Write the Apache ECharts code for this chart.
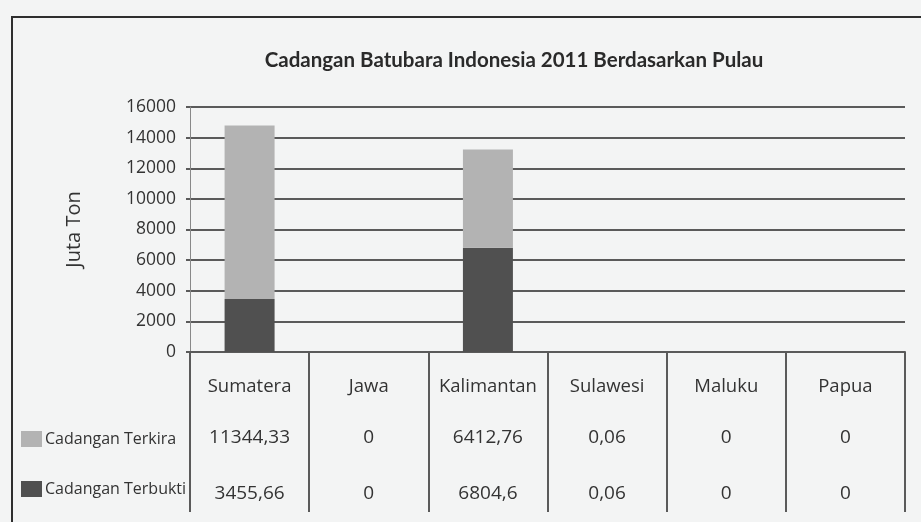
<!DOCTYPE html>
<html>
<head>
<meta charset="utf-8">
<script src="https://cdn.jsdelivr.net/npm/echarts@6/dist/echarts.min.js"></script>
<style>
  html, body { margin: 0; padding: 0; background: #f3f4f4; }
  #chart { width: 921px; height: 522px; }
</style>
</head>
<body>
<div id="chart"></div>
<script>
const pulau = ['Sumatera', 'Jawa', 'Kalimantan', 'Sulawesi', 'Maluku', 'Papua']
const terkira = [11344.33, 0, 6412.76, 0.06, 0, 0]
const terbukti = [3455.66, 0, 6804.6, 0.06, 0, 0]
const yTicks = [0, 2000, 4000, 6000, 8000, 10000, 12000, 14000, 16000]

const font = '"Open Sans", Lato, sans-serif'
const ink = '#333'
const line = '#5a5a5a'

// angka pakai koma desimal seperti di tabel
const fmt = (v) => String(v).replace('.', ',')

const chart = echarts.init(document.getElementById('chart'))

chart.setOption({
  backgroundColor: '#f3f4f4',
  textStyle: { fontFamily: font, color: ink },
  animation: false,
  title: {
    text: 'Cadangan Batubara Indonesia 2011 Berdasarkan Pulau',
    left: 509,
    textAlign: 'center',
    top: 45,
    textStyle: { fontSize: 20.5, fontWeight: 'bold', color: '#2a2a2a', fontFamily: 'Lato, sans-serif' }
  },
  legend: {
    orient: 'vertical',
    left: 16,
    top: 426,
    itemGap: 34,
    itemWidth: 21,
    itemHeight: 16,
    icon: 'rect',
    textStyle: { fontSize: 16, color: ink, fontFamily: font, padding: [0, 0, 0, -2] },
    data: ['Cadangan Terkira', 'Cadangan Terbukti']
  },
  grid: { left: 190, right: 16, top: 107, bottom: 170 },
  xAxis: [
    {
      type: 'category',
      data: pulau,
      axisLine: { lineStyle: { color: line, width: 2 } },
      axisTick: { show: true, length: 160, interval: 0, lineStyle: { color: line, width: 2 } },
      axisLabel: { fontSize: 18.5, color: ink, margin: 25, interval: 0 }
    },
    {
      type: 'category',
      data: pulau,
      position: 'bottom',
      offset: 76,
      axisLine: { show: false },
      axisTick: { show: false },
      axisLabel: {
        fontSize: 19, color: ink, margin: 0, interval: 0,
        formatter: (val, i) => fmt(terkira[i])
      }
    },
    {
      type: 'category',
      data: pulau,
      position: 'bottom',
      offset: 132,
      axisLine: { show: false },
      axisTick: { show: false },
      axisLabel: {
        fontSize: 19, color: ink, margin: 0, interval: 0,
        formatter: (val, i) => fmt(terbukti[i])
      }
    }
  ],
  yAxis: {
    type: 'value',
    min: yTicks[0],
    max: yTicks[yTicks.length - 1],
    interval: 2000,
    name: 'Juta Ton',
    nameLocation: 'middle',
    nameGap: 106,
    nameTextStyle: { fontSize: 20, color: ink, fontFamily: font },
    axisLine: { show: true, lineStyle: { color: '#888', width: 1 } },
    axisTick: { show: true, length: 4, lineStyle: { color: line, width: 2 } },
    axisLabel: { fontSize: 17.5, color: ink, margin: 14, formatter: (v) => String(v) },
    splitLine: { lineStyle: { color: line, width: 2 } }
  },
  series: [
    {
      name: 'Cadangan Terbukti',
      type: 'bar',
      stack: 'total',
      barWidth: 50,
      data: terbukti,
      itemStyle: { color: '#505050' }
    },
    {
      name: 'Cadangan Terkira',
      type: 'bar',
      stack: 'total',
      barWidth: 50,
      data: terkira,
      itemStyle: { color: '#b3b3b3' }
    }
  ],
  graphic: [
    {
      type: 'rect',
      shape: { x: 12, y: 17, width: 930, height: 530 },
      style: { fill: null, stroke: '#2e2e2e', lineWidth: 2 },
      silent: true
    }
  ]
})
</script>
</body>
</html>
